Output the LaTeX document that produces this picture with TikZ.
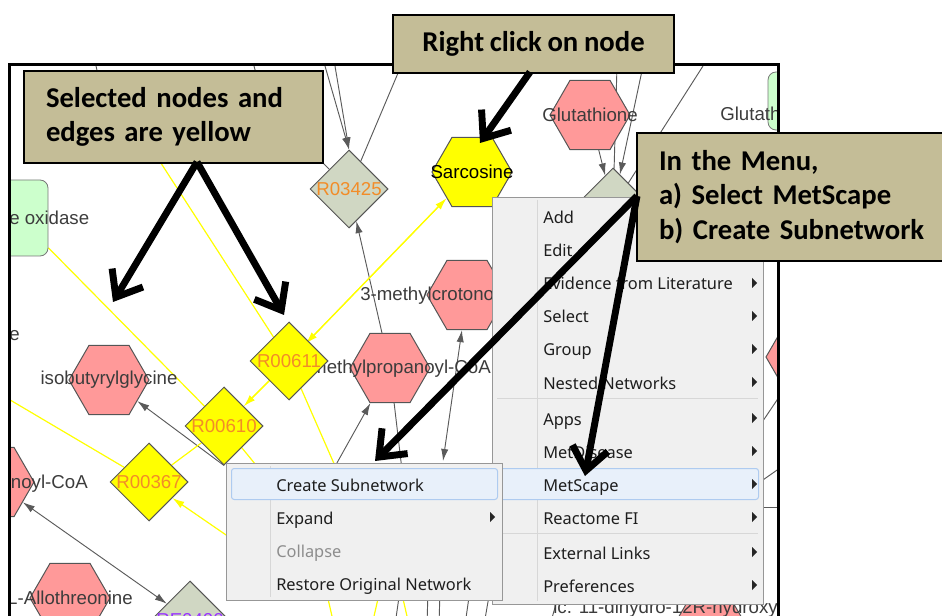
\documentclass[tikz,border=0pt]{standalone}
\usepackage{fontspec}
\setmainfont{Liberation Sans}
\newfontfamily\callfont{Carlito}
\newfontfamily\menufont{Noto Sans}
\newcommand\calltight{\spaceskip=0.2em\relax}
\usepackage{xcolor}
\usetikzlibrary{arrows.meta,positioning,shapes.geometric}
\definecolor{CyTan}{HTML}{C4BD97}
\definecolor{CyPink}{HTML}{FF9999}
\definecolor{CyGray}{HTML}{D0D7C3}
\definecolor{CyYellow}{HTML}{FFFF00}
\definecolor{CyGreen}{HTML}{CCFFCC}
\definecolor{CyLine}{HTML}{555555}
\definecolor{CyText}{HTML}{3C3C3C}
\definecolor{CyOrange}{HTML}{F28C28}
\definecolor{CyPurple}{HTML}{9933FF}
\definecolor{CyEdge}{HTML}{5A5A5A}
\definecolor{CyMenu}{HTML}{F0F0F0}
\definecolor{CyMenuLine}{HTML}{979797}
\definecolor{CySep}{HTML}{D7D7D7}
\definecolor{CyHiFill}{HTML}{E8F0FA}
\definecolor{CyHiLine}{HTML}{AECBF0}
\definecolor{CyMenuText}{HTML}{1E1E1E}
\definecolor{CyDim}{HTML}{8D8D8D}
\pgfdeclarelayer{edgelayer}
\pgfsetlayers{edgelayer,main}
\tikzset{
  hexnode/.style={regular polygon,regular polygon sides=6,minimum size=60pt,inner sep=0pt,draw=CyLine,line width=0.75pt,fill=CyPink},
  selhex/.style={hexnode,fill=CyYellow},
  rxnode/.style={diamond,minimum width=58.5pt,minimum height=58.5pt,inner sep=0pt,draw=CyLine,line width=0.75pt,fill=CyGray},
  selrx/.style={rxnode,fill=CyYellow},
  boxnode/.style={rectangle,rounded corners=6pt,draw=CyLine!80,line width=0.6pt,fill=CyGreen},
  nlabel/.style={font=\fontsize{14}{16}\selectfont,text=CyText,inner sep=0pt},
  rxlabel/.style={nlabel,text=CyOrange},
  netedge/.style={draw=CyEdge,line width=0.7pt},
  netarrow/.style={netedge,-{Latex[length=9pt,width=5.5pt]}},
  netboth/.style={netedge,{Latex[length=9pt,width=5.5pt]}-{Latex[length=9pt,width=5.5pt]}},
  seledge/.style={draw=CyYellow,line width=0.9pt},
  selarrow/.style={seledge,-{Latex[length=9pt,width=5.5pt]}},
  menupanel/.style={rectangle,draw=CyMenuLine,line width=0.75pt,fill=CyMenu,inner sep=0pt},
  menuhi/.style={rectangle,rounded corners=2pt,draw=CyHiLine,line width=0.75pt,fill=CyHiFill,inner sep=0pt},
  menuitem/.style={anchor=base west,inner sep=0pt,font=\menufont\fontsize{12.3}{14}\selectfont,text=CyMenuText},
  menusep/.style={draw=CySep,line width=0.75pt},
  callbox/.style={rectangle,draw=black,line width=1.5pt,fill=CyTan,inner xsep=16.5pt,inner ysep=0pt,font={\callfont\bfseries\fontsize{21.5}{26}\selectfont\calltight}},
  callarrow/.style={-{Straight Barb[length=17pt,width=27pt]},line width=5.2pt,draw=black}
}

\begin{document}
\begin{tikzpicture}[x=0.75pt,y=-0.75pt]
\useasboundingbox (0,0) rectangle (942,616);
% the network behind the menus
\begin{scope}
\clip (10,66) rectangle (778,616);
\node[boxnode,minimum width=43.5pt,minimum height=57pt] (oxid) at (19,218) {};
\node[nlabel,anchor=west] (oxidlbl) at (9,218) {e oxidase};
\node[boxnode,minimum width=24pt,minimum height=43.5pt] (glutr) at (784,101) {};
\node[nlabel,anchor=west] (glutrlbl) at (720,114) {Glutathione};
\node[hexnode,label={[nlabel]center:Glutathione}] (gluta) at (590,115) {};
\node[hexnode] (mcrot) at (467,295) {};
\node[nlabel,anchor=west] (mcrotlbl) at (360,296) {3-methylcrotonoyl-CoA};
\node[hexnode] (mprop) at (390,368) {};
\node[nlabel,anchor=east] (mproplbl) at (491,369) {2-methylpropanoyl-CoA};
\node[hexnode,label={[nlabel]center:isobutyrylglycine}] (isob) at (109,380) {};
\node[hexnode] (noyl) at (-6,482) {};
\node[nlabel,anchor=east] (noyllbl) at (88,484) {noyl-CoA};
\node[hexnode,label={[nlabel]center:L-Allothreonine}] (allo) at (70,598) {};
\node[hexnode] (hydro) at (710,632) {};
\node[nlabel,anchor=west] (hydrolbl) at (553,609) {ic. 11-dihydro-12R-hydroxy};
\node[hexnode] (rhex) at (806,357) {};
\node[nlabel,anchor=west] (frag) at (9,336) {e};
\node[rxnode,label={[rxlabel]center:R03425}] (r03425) at (349,189) {};
\node[rxnode] (side) at (613,207) {};
\node[rxnode,label={[nlabel,text=CyPurple]center:RE0400}] (re) at (190,620) {};
\node[selhex,label={[nlabel,text=black]center:Sarcosine}] (sarc) at (472,172) {};
\node[selrx,label={[rxlabel]center:R00611}] (r00611) at (289,361) {};
\node[selrx,label={[rxlabel]center:R00610}] (r00610) at (224,426) {};
\node[selrx,label={[rxlabel]center:R00367}] (r00367) at (149,482) {};
\end{scope}
\begin{pgfonlayer}{edgelayer}
\clip (10,66) rectangle (778,616);
\coordinate (ta) at (325,66);
\coordinate (tb) at (335,66);
\coordinate (tc) at (401,66);
\coordinate (td) at (300,140);
\coordinate (te) at (96,66);
\coordinate (tf) at (254,66);
\coordinate (tg) at (617,66);
\coordinate (th) at (643,66);
\coordinate (ti) at (703,66);
\coordinate (ma) at (402,470);
\coordinate (mb) at (333,470);
\coordinate (mc) at (443,461);
\coordinate (ra) at (740,455);
\coordinate (rb) at (740,496);
\coordinate (rc) at (790,461);
\coordinate (rd) at (740,507);
\coordinate (rf) at (790,507);
\coordinate (ya) at (146,140);
\coordinate (yb) at (0,394);
\coordinate (yc) at (245,548);
\coordinate (yd) at (339,475);
\coordinate (ye) at (260,470);
\draw[netedge] (te) -- (106,110);
\draw[netedge] (tf) -- (266,110);
\draw[netarrow] (ta) -- (r03425.north);
\draw[netarrow] (tb) -- (r03425.north);
\draw[netedge] (tc) -- (r03425);
\draw[netedge] (td) -- (r03425);
\draw[netarrow] (mprop) -- (r03425);
\draw[netedge] (mprop) -- (ma);
\draw[netarrow] (mb) -- (mprop);
\draw[netboth] (mcrot) -- (mc);
\draw[netarrow] (r00610.south) -- (isob);
\draw[netboth] (noyl) -- (re);
\draw[netarrow] (gluta) -- (side);
\draw[netedge] (tg) -- (side);
\draw[netarrow] (th) -- (side);
\draw[netedge] (ti) -- (side);
\draw[netedge] (ra) -- (rhex);
\draw[netedge] (rb) -- (rc);
\draw[netedge] (rd) -- (rf);
\foreach \xa/\xb in {400/395,428/427,440/439,470/465,490/484,560/550}
  \draw[netedge] (\xa,590) -- (\xb,625);
\draw[seledge] (oxid) -- (r00610);
\draw[seledge] (ya) -- (r00611);
\draw[seledge] (yb) -- (r00367);
\draw[selarrow] (r00611) -- (sarc);
\draw[selarrow,transform canvas={xshift=-2pt,yshift=-2pt}] (sarc) -- (r00611);
\draw[selarrow] (r00611) -- (r00610);
\draw[seledge,transform canvas={xshift=2pt,yshift=2pt}] (r00611) -- (r00610);
\draw[seledge] (r00610) -- (r00367);
\draw[selarrow] (yc) -- (r00367);
\draw[seledge] (r00611) -- (yd);
\draw[seledge] (r00610) -- (ye);
\foreach \xa/\xb in {326/334,380/372,401/409}
  \draw[seledge] (\xa,590) -- (\xb,625);
\end{pgfonlayer}
\draw[line width=2.25pt] (9.5,630) -- (9.5,64.5) -- (778.5,64.5) -- (778.5,630);

% right click menu
\node[menupanel,anchor=north west,minimum width=203.25pt,minimum height=305.25pt] (mainmenu) at (492,197) {};
\draw[menusep] (537,200) -- (537,601);
\node[menuhi,anchor=north west,minimum width=195.75pt,minimum height=23.25pt] (scapehi) at (497,468) {};
\draw[menusep] (497,398) -- (758,398);
\draw[menusep] (497,533) -- (758,533);
\foreach \txt/\yy [count=\i] in {Add/224,Edit/257,Evidence from Literature/290,Select/323,Group/356,Nested Networks/389,Apps/425,MetDisease/458,MetScape/491,Reactome FI/524,External Links/559,Preferences/592}
  \node[menuitem] (main\i) at (543,\yy) {\txt};
\foreach \yy in {283,316,349,382,418,451,484,517,552,585}
  \fill[black!85] (757,\yy) -- ++(-5,-5) -- ++(0,10) -- cycle;

% MetScape submenu
\node[menupanel,anchor=north west,minimum width=207pt,minimum height=102.75pt] (submenu) at (226,463) {};
\draw[menusep] (270,466) -- (270,597);
\node[menuhi,anchor=north west,minimum width=199.5pt,minimum height=23.25pt] (createhi) at (231,468) {};
\node[menuitem] (sub1) at (276,491) {Create Subnetwork};
\node[menuitem] (sub2) at (276,524) {Expand};
\node[menuitem,text=CyDim] (sub3) at (276,557) {Collapse};
\node[menuitem] (sub4) at (276,590) {Restore Original Network};
\fill[black!85] (495,517) -- ++(-5,-5) -- ++(0,10) -- cycle;

% callouts
\node[callbox,anchor=north west,minimum width=224.25pt,minimum height=69pt,text width=191.25pt,align=left] (selbox) at (23,70) {Selected nodes and\\edges are yellow};
\node[callbox,anchor=north west,minimum width=210.75pt,minimum height=43.5pt,align=center] (clickbox) at (392,14) {Right click on node};
\node[callbox,anchor=north west,minimum width=240pt,minimum height=96pt,text width=207pt,align=left] (stepbox) at (636,132) {In the Menu,\\a) Select MetScape\\b) Create Subnetwork};

\coordinate (selfoot) at (197,162);
\coordinate (clickfoot) at (530,72);
\coordinate (stepfoot) at (637,196);
\coordinate (blankspot) at (113,302);
\coordinate (rxtip) at (284,315);
\coordinate (sarctip) at (480,143);
\coordinate (createtip) at (375,461);
\coordinate (scapetip) at (585,476);
\draw[callarrow] (selfoot) -- (blankspot);
\draw[callarrow] (selfoot) -- (rxtip);
\draw[callarrow] (clickfoot) -- (sarctip);
\draw[callarrow] (stepfoot) -- (createtip);
\draw[callarrow] (stepfoot) -- (scapetip);
\end{tikzpicture}
\end{document}
